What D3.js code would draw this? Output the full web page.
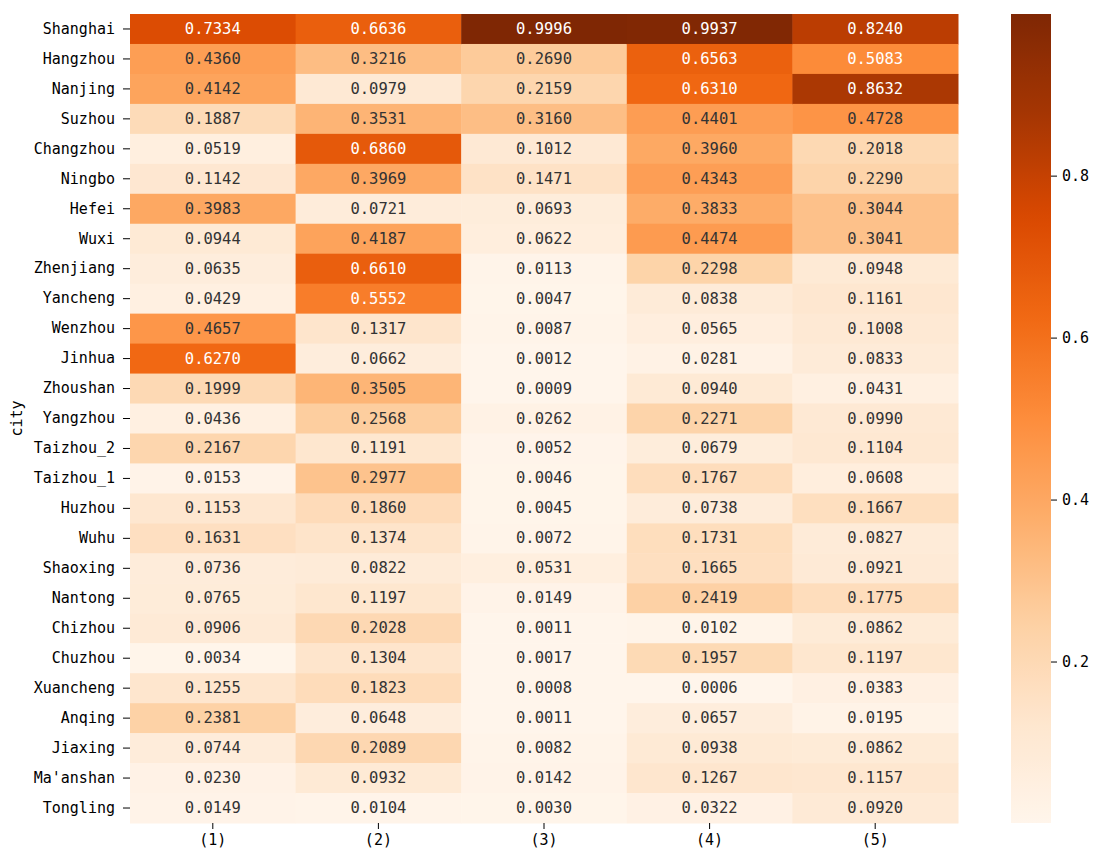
<!DOCTYPE html>
<html>
<head>
<meta charset="utf-8">
<script src="https://cdn.jsdelivr.net/npm/d3@7"></script>
<style>
  body { margin: 0; background: #fff; }
  text { font-family: "DejaVu Sans Mono", "Liberation Mono", monospace; }
</style>
</head>
<body>
<script>
// 城市与列标签
const cities = ["Shanghai", "Hangzhou", "Nanjing", "Suzhou", "Changzhou", "Ningbo", "Hefei", "Wuxi",
    "Zhenjiang", "Yancheng", "Wenzhou", "Jinhua", "Zhoushan", "Yangzhou", "Taizhou_2", "Taizhou_1",
    "Huzhou", "Wuhu", "Shaoxing", "Nantong", "Chizhou", "Chuzhou", "Xuancheng", "Anqing", "Jiaxing",
    "Ma'anshan", "Tongling"];
const columns = ["(1)", "(2)", "(3)", "(4)", "(5)"];

// 每列的数值（按城市顺序）
const col1 = [0.7334, 0.4360, 0.4142, 0.1887, 0.0519, 0.1142, 0.3983, 0.0944, 0.0635, 0.0429, 0.4657, 0.6270, 0.1999, 0.0436,
    0.2167, 0.0153, 0.1153, 0.1631, 0.0736, 0.0765, 0.0906, 0.0034, 0.1255, 0.2381, 0.0744, 0.0230, 0.0149];
const col2 = [0.6636, 0.3216, 0.0979, 0.3531, 0.6860, 0.3969, 0.0721, 0.4187, 0.6610, 0.5552, 0.1317, 0.0662, 0.3505, 0.2568,
    0.1191, 0.2977, 0.1860, 0.1374, 0.0822, 0.1197, 0.2028, 0.1304, 0.1823, 0.0648, 0.2089, 0.0932, 0.0104];
const col3 = [0.9996, 0.2690, 0.2159, 0.3160, 0.1012, 0.1471, 0.0693, 0.0622, 0.0113, 0.0047, 0.0087, 0.0012, 0.0009, 0.0262,
    0.0052, 0.0046, 0.0045, 0.0072, 0.0531, 0.0149, 0.0011, 0.0017, 0.0008, 0.0011, 0.0082, 0.0142, 0.0030];
const col4 = [0.9937, 0.6563, 0.6310, 0.4401, 0.3960, 0.4343, 0.3833, 0.4474, 0.2298, 0.0838, 0.0565, 0.0281, 0.0940, 0.2271,
    0.0679, 0.1767, 0.0738, 0.1731, 0.1665, 0.2419, 0.0102, 0.1957, 0.0006, 0.0657, 0.0938, 0.1267, 0.0322];
const col5 = [0.8240, 0.5083, 0.8632, 0.4728, 0.2018, 0.2290, 0.3044, 0.3041, 0.0948, 0.1161, 0.1008, 0.0833, 0.0431, 0.0990,
    0.1104, 0.0608, 0.1667, 0.0827, 0.0921, 0.1775, 0.0862, 0.1197, 0.0383, 0.0195, 0.0862, 0.1157, 0.0920];
const colorbarTicks = [0.2, 0.4, 0.6, 0.8];

const series = [col1, col2, col3, col4, col5];
const cells = [];
series.forEach((vals, j) => vals.forEach((v, i) => cells.push({row: cities[i], col: columns[j], value: v})));

const width = 1094, height = 852;
const margin = {left: 130, right: 136, top: 14, bottom: 29};
const innerW = width - margin.left - margin.right;
const innerH = height - margin.top - margin.bottom;

const svg = d3.select("body").append("svg")
    .attr("width", width)
    .attr("height", height);

const x = d3.scaleBand().domain(columns).range([margin.left, margin.left + innerW]);
const y = d3.scaleBand().domain(cities).range([margin.top, margin.top + innerH]);

const allVals = series.flat();
const vmin = d3.min(allVals), vmax = d3.max(allVals);

// matplotlib Oranges 色带（线性分段）
const oranges = ["#fff5eb", "#fee6ce", "#fdd0a2", "#fdae6b", "#fd8d3c", "#f16913", "#d94801", "#a63603", "#7f2704"];
const color = d3.scaleLinear()
    .domain(oranges.map((_, k) => vmin + (vmax - vmin) * k / (oranges.length - 1)))
    .range(oranges)
    .interpolate(d3.interpolateRgb)
    .clamp(true);

// 相对亮度，决定文字颜色
const luminance = c => {
    const rgb = d3.rgb(c);
    const lin = v => { v /= 255; return v <= 0.03928 ? v / 12.92 : Math.pow((v + 0.055) / 1.055, 2.4); };
    return 0.2126 * lin(rgb.r) + 0.7152 * lin(rgb.g) + 0.0722 * lin(rgb.b);
};

// 单元格
svg.append("g").selectAll("rect")
    .data(cells)
    .join("rect")
    .attr("x", d => x(d.col))
    .attr("y", d => y(d.row))
    .attr("width", x.bandwidth() + 0.5)
    .attr("height", y.bandwidth() + 0.5)
    .attr("fill", d => color(d.value));

// 数值标注
svg.append("g").selectAll("text")
    .data(cells)
    .join("text")
    .attr("x", d => x(d.col) + x.bandwidth() / 2)
    .attr("y", d => y(d.row) + y.bandwidth() / 2)
    .attr("text-anchor", "middle")
    .attr("dominant-baseline", "central")
    .attr("font-size", 15.5)
    .attr("fill", d => luminance(color(d.value)) > 0.408 ? "#333333" : "#ffffff")
    .text(d => d.value.toFixed(4));

// 坐标轴
const yAxis = svg.append("g")
    .attr("transform", `translate(${margin.left},0)`)
    .call(d3.axisLeft(y).tickSize(7).tickPadding(8));
const xAxis = svg.append("g")
    .attr("transform", `translate(0,${margin.top + innerH})`)
    .call(d3.axisBottom(x).tickSize(6).tickPadding(5));
[yAxis, xAxis].forEach(a => {
    a.select(".domain").remove();
    a.selectAll("text").attr("font-size", 15).attr("fill", "#000").style("font-family", "DejaVu Sans Mono");
    a.selectAll("line").attr("stroke", "#000").attr("stroke-width", 1);
});

svg.append("text")
    .attr("transform", `translate(22,${margin.top + innerH / 2}) rotate(-90)`)
    .attr("text-anchor", "middle")
    .attr("font-size", 15)
    .text("city");

// 色条
const cbX = 1011, cbW = 40;
const cbScale = d3.scaleLinear().domain([vmin, vmax]).range([margin.top + innerH, margin.top]);
const grad = svg.append("defs").append("linearGradient")
    .attr("id", "cbGrad")
    .attr("x1", 0).attr("y1", 1).attr("x2", 0).attr("y2", 0);
d3.range(0, 1.0001, 0.02).forEach(t => {
    grad.append("stop")
        .attr("offset", t)
        .attr("stop-color", color(vmin + t * (vmax - vmin)));
});
svg.append("rect")
    .attr("x", cbX)
    .attr("y", margin.top)
    .attr("width", cbW)
    .attr("height", innerH)
    .attr("fill", "url(#cbGrad)");

const cbAxis = svg.append("g")
    .attr("transform", `translate(${cbX + cbW},0)`)
    .call(d3.axisRight(cbScale).tickValues(colorbarTicks).tickFormat(d3.format(".1f")).tickSize(6).tickPadding(5));
cbAxis.select(".domain").remove();
cbAxis.selectAll("text").attr("font-size", 15).attr("fill", "#000").style("font-family", "DejaVu Sans Mono");
cbAxis.selectAll("line").attr("stroke", "#000");
</script>
</body>
</html>
